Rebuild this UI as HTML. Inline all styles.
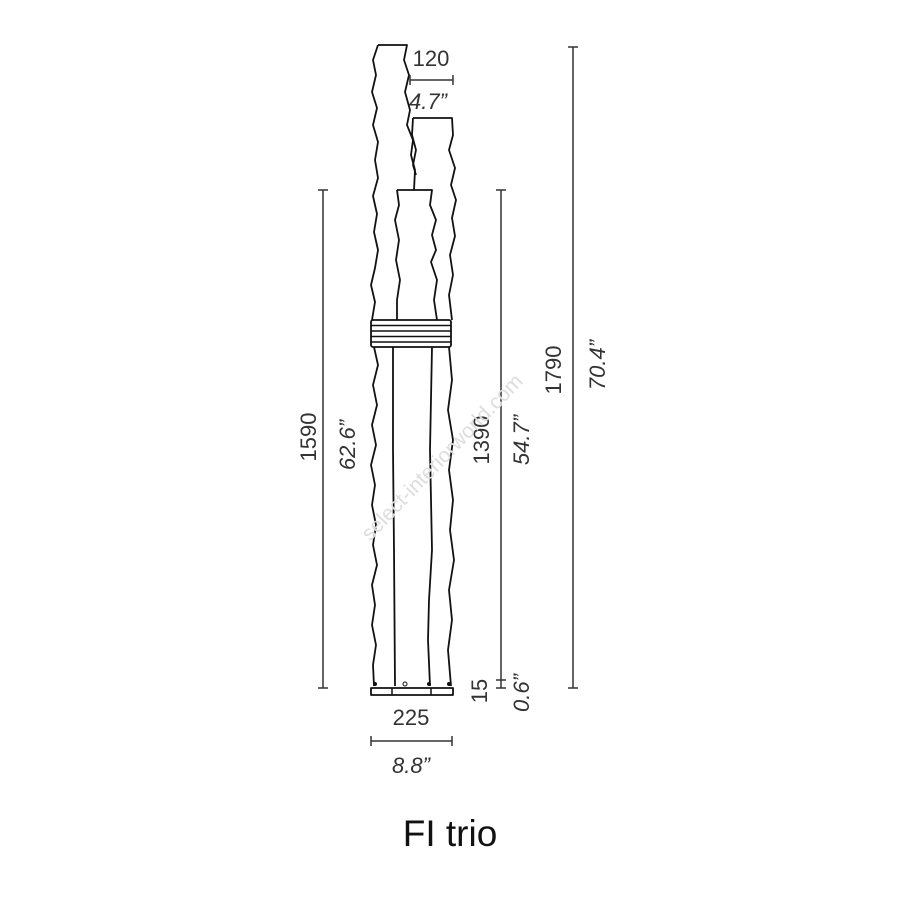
<!DOCTYPE html>
<html><head><meta charset="utf-8"><style>
html,body{margin:0;padding:0;background:#fff;}
svg{display:block;}
text{font-family:"Liberation Sans",sans-serif;fill:#333;}
</style></head><body>
<svg width="900" height="900" viewBox="0 0 900 900" xmlns="http://www.w3.org/2000/svg">
<g fill="none" stroke="#111" stroke-width="1.8" stroke-linejoin="round">
<polyline points="378,45 373,60 376,75 372,92 377,108 373,125 378,142 375,160 378,178 373,196 377,214 374,232 378,250 375,268 371,285 375,302 372,320"/>
<polyline points="378,45 407,45 404,60 409,75 405,92 410,110 407,125 413,140 411,155 415,170 414,190"/>
<polyline points="413,118 452,118 453,135 449,150 455,168 451,185 456,200 452,218 455,236 450,255 453,275 449,295 452,320"/>
<polyline points="413,118 412,135 416,150 413,165 416,175"/>
<polyline points="397,190 432,190 430,205 436,220 432,235 436,250 431,262 437,280 434,300 437,320"/>
<polyline points="397,190 399,205 395,220 399,240 396,260 400,280 397,300 397,320"/>
<rect x="371" y="320" width="80" height="27" rx="2"/>
<line x1="371" y1="325.5" x2="451" y2="325.5" stroke-width="1.5"/>
<line x1="371" y1="331" x2="451" y2="331" stroke-width="1.5"/>
<line x1="371" y1="336.5" x2="451" y2="336.5" stroke-width="1.5"/>
<line x1="371" y1="342" x2="451" y2="342" stroke-width="1.5"/>
<polyline points="374,347 378,365 373,385 377,405 372,425 376,445 371,465 375,485 372,505 376,525 373,545 377,565 372,585 375,605 372,625 376,645 373,665 374,686"/>
<polyline points="393,347 393,450 394,550 395,686"/>
<polyline points="432,347 430,450 432,550 429,600 428,640 430,686"/>
<polyline points="449,347 452,380 448,410 453,440 449,470 453,500 450,530 454,560 449,590 452,620 448,650 451,686"/>
<rect x="371" y="688" width="82" height="7" stroke-width="1.8"/>
<line x1="392" y1="688" x2="392" y2="695" stroke-width="1.5"/>
<line x1="431" y1="688" x2="431" y2="695" stroke-width="1.5"/>
</g>
<circle cx="375" cy="684" r="2" fill="#111"/><circle cx="405" cy="684" r="2" fill="none" stroke="#111"/><circle cx="429" cy="684" r="2" fill="#111"/><circle cx="449" cy="684" r="2" fill="#111"/>
<g stroke="#333" stroke-width="1.5">
<line x1="410" y1="80" x2="453" y2="80"/><line x1="410" y1="75" x2="410" y2="85"/><line x1="453" y1="75" x2="453" y2="85"/>
<line x1="323" y1="190" x2="323" y2="688"/><line x1="318" y1="190" x2="328" y2="190"/><line x1="318" y1="688" x2="328" y2="688"/>
<line x1="501" y1="190" x2="501" y2="688"/><line x1="496" y1="190" x2="506" y2="190"/><line x1="496" y1="680" x2="506" y2="680"/><line x1="496" y1="688" x2="506" y2="688"/>
<line x1="573" y1="47" x2="573" y2="688"/><line x1="568" y1="47" x2="578" y2="47"/><line x1="568" y1="688" x2="578" y2="688"/>
<line x1="371" y1="741" x2="452" y2="741"/><line x1="371" y1="736" x2="371" y2="746"/><line x1="452" y1="736" x2="452" y2="746"/>
</g>
<g font-size="22">
<text x="431" y="66" text-anchor="middle">120</text>
<text x="428" y="109" text-anchor="middle" font-style="italic">4.7”</text>
<text x="411" y="725" text-anchor="middle">225</text>
<text x="411" y="773" text-anchor="middle" font-style="italic">8.8”</text>
<text transform="translate(316,437) rotate(-90)" text-anchor="middle">1590</text>
<text transform="translate(355,445) rotate(-90)" text-anchor="middle" font-style="italic">62.6”</text>
<text transform="translate(489,440) rotate(-90)" text-anchor="middle">1390</text>
<text transform="translate(529,440) rotate(-90)" text-anchor="middle" font-style="italic">54.7”</text>
<text transform="translate(487,691) rotate(-90)" text-anchor="middle">15</text>
<text transform="translate(529,693) rotate(-90)" text-anchor="middle" font-style="italic">0.6”</text>
<text transform="translate(561,370) rotate(-90)" text-anchor="middle">1790</text>
<text transform="translate(605,365) rotate(-90)" text-anchor="middle" font-style="italic">70.4”</text>
</g>
<text transform="translate(447,462) rotate(-46)" text-anchor="middle" font-size="21" style="fill:#ddd">select-interiorworld.com</text>
<text x="450" y="846" text-anchor="middle" font-size="37" style="fill:#111">FI trio</text>
</svg>
</body></html>
